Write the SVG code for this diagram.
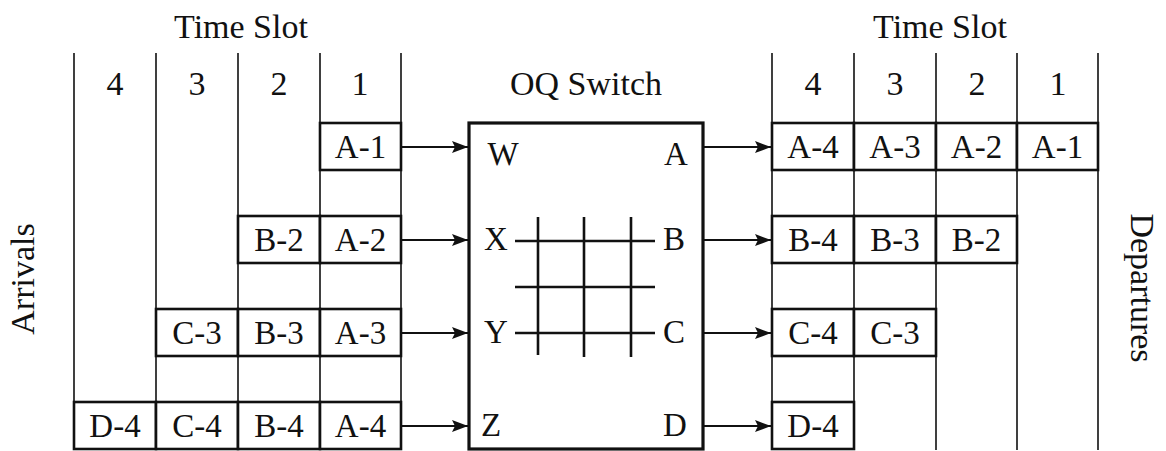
<svg xmlns="http://www.w3.org/2000/svg" width="1166" height="451" viewBox="0 0 1166 451">
<style>
text{font-family:"Liberation Serif","Times New Roman",serif;fill:#111;text-anchor:middle}
.t{font-size:34px}
.c{font-size:33px}
.col{stroke:#111;stroke-width:1.6;fill:none}
.box{stroke:#111;stroke-width:2.6;fill:#fff}
.sw{stroke:#111;stroke-width:3.2;fill:#fff}
.bar{stroke:#111;stroke-width:2.6}
.con{stroke:#111;stroke-width:2;fill:none;marker-end:url(#ah)}
</style>
<defs>
<marker id="ah" viewBox="0 0 16 12" refX="16" refY="6" markerWidth="16" markerHeight="12" markerUnits="userSpaceOnUse" orient="auto">
<path d="M0,0 L16,6 L0,12 L3,6 Z" fill="#111"/>
</marker>
</defs>
<rect width="1166" height="451" fill="#fff"/>
<g id="labels">
<text class="t" x="241" y="38">Time Slot</text>
<text class="t" x="940" y="38">Time Slot</text>
<text class="t" x="586" y="95">OQ Switch</text>
<text class="t" transform="translate(34,279) rotate(-90)">Arrivals</text>
<text class="t" transform="translate(1131,288) rotate(90)">Departures</text>
</g>
<g id="left-grid">
<path class="col" d="M74,53V450M156,53V450M238,53V450M320,53V450M401,53V450"/>
<text class="t" x="115" y="95">4</text>
<text class="t" x="197" y="95">3</text>
<text class="t" x="279" y="95">2</text>
<text class="t" x="360" y="95">1</text>
</g>
<g id="right-grid">
<path class="col" d="M772,53V450M854,53V450M936,53V450M1017,53V450M1098,53V450"/>
<text class="t" x="813" y="95">4</text>
<text class="t" x="895" y="95">3</text>
<text class="t" x="977" y="95">2</text>
<text class="t" x="1058" y="95">1</text>
</g>
<g id="arrivals">
<rect class="box" x="320" y="123" width="81" height="47"/><text class="c" x="360.5" y="158">A-1</text>
<rect class="box" x="238" y="216" width="82" height="47"/><text class="c" x="279" y="251">B-2</text>
<rect class="box" x="320" y="216" width="81" height="47"/><text class="c" x="360.5" y="251">A-2</text>
<rect class="box" x="156" y="309" width="82" height="47"/><text class="c" x="197" y="344">C-3</text>
<rect class="box" x="238" y="309" width="82" height="47"/><text class="c" x="279" y="344">B-3</text>
<rect class="box" x="320" y="309" width="81" height="47"/><text class="c" x="360.5" y="344">A-3</text>
<rect class="box" x="74" y="402" width="82" height="47"/><text class="c" x="115" y="437">D-4</text>
<rect class="box" x="156" y="402" width="82" height="47"/><text class="c" x="197" y="437">C-4</text>
<rect class="box" x="238" y="402" width="82" height="47"/><text class="c" x="279" y="437">B-4</text>
<rect class="box" x="320" y="402" width="81" height="47"/><text class="c" x="360.5" y="437">A-4</text>
</g>
<g id="departures">
<rect class="box" x="772" y="123" width="82" height="47"/><text class="c" x="813" y="158">A-4</text>
<rect class="box" x="854" y="123" width="82" height="47"/><text class="c" x="895" y="158">A-3</text>
<rect class="box" x="936" y="123" width="81" height="47"/><text class="c" x="976.5" y="158">A-2</text>
<rect class="box" x="1017" y="123" width="81" height="47"/><text class="c" x="1057.5" y="158">A-1</text>
<rect class="box" x="772" y="216" width="82" height="47"/><text class="c" x="813" y="251">B-4</text>
<rect class="box" x="854" y="216" width="82" height="47"/><text class="c" x="895" y="251">B-3</text>
<rect class="box" x="936" y="216" width="81" height="47"/><text class="c" x="976.5" y="251">B-2</text>
<rect class="box" x="772" y="309" width="82" height="47"/><text class="c" x="813" y="344">C-4</text>
<rect class="box" x="854" y="309" width="82" height="47"/><text class="c" x="895" y="344">C-3</text>
<rect class="box" x="772" y="402" width="82" height="47"/><text class="c" x="813" y="437">D-4</text>
</g>
<g id="switch">
<rect class="sw" x="469" y="123" width="234" height="326"/>
<path class="bar" d="M515,241H655M515,287H655M515,333H655M538,217V355M584,217V357M631,217V357"/>
<text class="c" x="503" y="165">W</text>
<text class="c" x="676" y="165">A</text>
<text class="c" x="496" y="250">X</text>
<text class="c" x="674" y="250">B</text>
<text class="c" x="496" y="343">Y</text>
<text class="c" x="674" y="343">C</text>
<text class="c" x="491" y="436">Z</text>
<text class="c" x="675" y="436">D</text>
</g>
<g id="connectors">
<path class="con" d="M402,147H468"/>
<path class="con" d="M402,240H468"/>
<path class="con" d="M402,333H468"/>
<path class="con" d="M402,426H468"/>
<path class="con" d="M704,147H771"/>
<path class="con" d="M704,240H771"/>
<path class="con" d="M704,333H771"/>
<path class="con" d="M704,426H771"/>
</g>
</svg>
